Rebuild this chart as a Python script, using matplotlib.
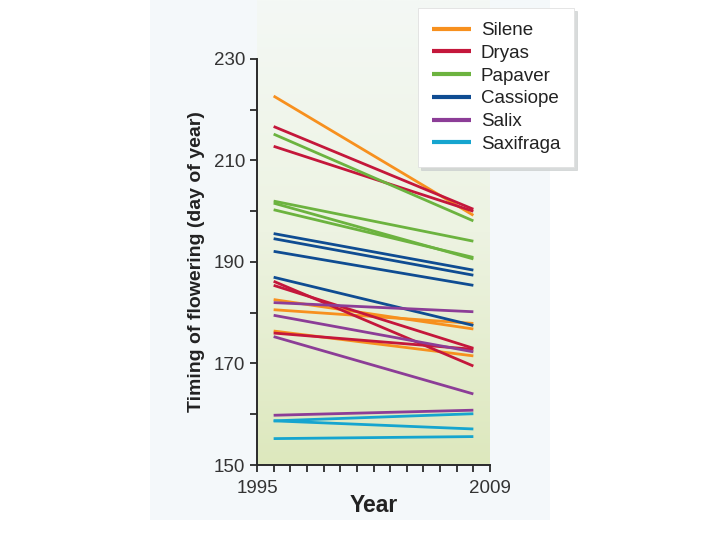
#imports
import matplotlib.pyplot as plt
import numpy as np
from matplotlib.colors import LinearSegmentedColormap

plt.rcParams['font.family'] = ['Liberation Sans', 'DejaVu Sans']

#data: first and last year of each fitted line
years = [1996, 2008]

species = ['Silene', 'Dryas', 'Papaver', 'Cassiope', 'Salix', 'Saxifraga']
colors = ['#f7901e', '#c4173b', '#6cb33f', '#0f4c92', '#8c3d97', '#16a5cf']

silene_start = [222.7, 182.6, 180.6, 176.4]
silene_end = [199.2, 176.8, 177.9, 171.5]
dryas_start = [216.7, 212.8, 186.2, 185.4, 176.0]
dryas_end = [200.4, 200.0, 169.5, 173.0, 172.8]
papaver_start = [215.2, 202.0, 201.6, 200.3]
papaver_end = [198.1, 194.1, 190.6, 190.9]
cassiope_start = [195.6, 194.6, 192.1, 187.0]
cassiope_end = [188.4, 187.4, 185.4, 177.5]
salix_start = [182.0, 179.5, 175.3, 159.8]
salix_end = [180.2, 172.3, 164.0, 160.8]
saxifraga_start = [158.7, 158.7, 155.2]
saxifraga_end = [160.1, 157.1, 155.6]

starts = [silene_start, dryas_start, papaver_start, cassiope_start, salix_start, saxifraga_start]
ends = [silene_end, dryas_end, papaver_end, cassiope_end, salix_end, saxifraga_end]

yticks = [150, 160, 170, 180, 190, 200, 210, 220, 230]
ytick_labels = ['150', '', '170', '', '190', '', '210', '', '230']
xticks = list(range(1995, 2010))
xtick_labels = ['1995'] + [''] * 13 + ['2009']

fig = plt.figure(figsize=(7.2, 5.4), dpi=100)

#light outer panel, as its own axes at the back
outer = fig.add_axes([150 / 720, 20 / 540, 400 / 720, 520 / 540], zorder=-3)
outer.set_facecolor('#f4f8fa')
outer.set_xticks([])
outer.set_yticks([])
for s in outer.spines.values():
    s.set_visible(False)

#green gradient behind the plot area
bg = fig.add_axes([257 / 720, 75 / 540, 233 / 720, 465 / 540], zorder=-2)
cmap = LinearSegmentedColormap.from_list('g', ['#dde8bd', '#edf3e2', '#f4f8f5'])
grad = np.linspace(0, 1, 256).reshape(-1, 1)
bg.imshow(grad, aspect='auto', cmap=cmap, origin='lower', extent=[0, 1, 0, 1])
bg.axis('off')

ax = fig.add_axes([257 / 720, 75 / 540, 233 / 720, 406 / 540])
ax.patch.set_alpha(0)

#one line per population
for name, col, s_list, e_list in zip(species, colors, starts, ends):
    for i in range(len(s_list)):
        lab = name if i == 0 else None
        ax.plot(years, [s_list[i], e_list[i]], color=col, lw=2.0,
                solid_capstyle='butt', label=lab)

ax.set_xlim(1995, 2009)
ax.set_ylim(150, 230)
ax.set_yticks(yticks)
ax.set_yticklabels(ytick_labels)
ax.set_xticks(xticks)
ax.set_xticklabels(xtick_labels)
ax.tick_params(direction='out', length=5, width=1.3, colors='#2a2a2a',
               labelsize=13.5, labelcolor='#333333')
ax.tick_params(axis='x', pad=6)
for side in ['top', 'right']:
    ax.spines[side].set_visible(False)
for side in ['left', 'bottom']:
    ax.spines[side].set_color('#2a2a2a')
    ax.spines[side].set_linewidth(1.4)

ax.set_ylabel('Timing of flowering (day of year)', fontsize=14,
              fontweight='bold', color='#222222', labelpad=6)
ax.set_xlabel('Year', fontsize=16.5, fontweight='bold', color='#222222', labelpad=-2)

leg = ax.legend(loc='upper left', bbox_to_anchor=(418 / 720, 1 - 8 / 540),
                bbox_transform=fig.transFigure, frameon=True, fancybox=False,
                shadow={'color': '#c8cccc', 'alpha': 0.7}, fontsize=13.5,
                handlelength=2.1, handletextpad=0.5, labelspacing=0.3,
                borderpad=0.75, borderaxespad=0)
leg.get_frame().set_edgecolor('#e0e0e0')
leg.get_frame().set_linewidth(0.6)
for line in leg.get_lines():
    line.set_linewidth(3)
for t in leg.get_texts():
    t.set_color('#222222')

fig.savefig('out.png', dpi=100)
